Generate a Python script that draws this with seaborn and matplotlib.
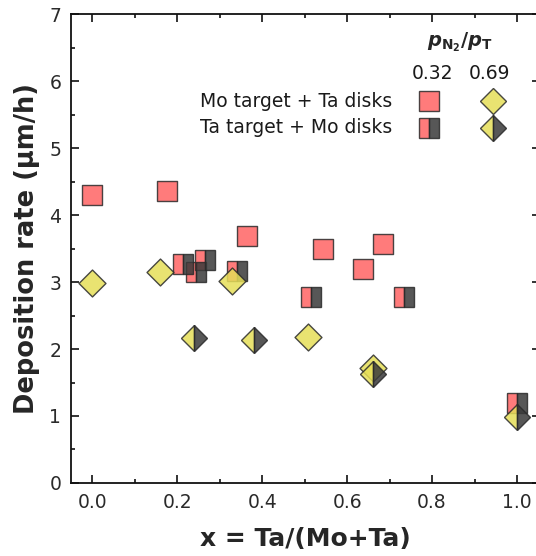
import matplotlib
matplotlib.use("Agg")
import matplotlib.pyplot as plt
from matplotlib.lines import Line2D
from matplotlib.ticker import MultipleLocator, FormatStrFormatter
import seaborn as sns
import pandas as pd

# Mo target + Ta disks, p_N2/p_T = 0.32 (squares)
mo_sq_x = [0.0, 0.176, 0.364, 0.543, 0.638, 0.684]
mo_sq_y = [4.30, 4.36, 3.69, 3.50, 3.19, 3.56]
# Ta target + Mo disks, p_N2/p_T = 0.32 (half squares)
ta_sq_x = [0.213, 0.245, 0.265, 0.340, 0.515, 0.733, 1.0]
ta_sq_y = [3.27, 3.15, 3.33, 3.17, 2.77, 2.77, 1.20]
# Mo target + Ta disks, p_N2/p_T = 0.69 (diamonds)
mo_d_x = [0.0, 0.160, 0.329, 0.509, 0.660]
mo_d_y = [2.98, 3.15, 3.01, 2.18, 1.72]
# Ta target + Mo disks, p_N2/p_T = 0.69 (half diamonds)
ta_d_x = [0.240, 0.380, 0.660, 1.0]
ta_d_y = [2.16, 2.13, 1.63, 0.985]

row_labels = ["Mo target + Ta disks", "Ta target + Mo disks"]
col_labels = ["0.32", "0.69"]
legend_title = r"$p_{\mathrm{N_2}}/p_{\mathrm{T}}$"

RED = "#FF6464"
YEL = "#E6DE58"
DARK = "#3A3A3A"
EDGE = "#2A2A2A"
MS = 13.7
ALPHA = 0.85

sns.set_theme(style="ticks")
plt.rcParams["font.family"] = ["DejaVu Sans"]
plt.rcParams["mathtext.fontset"] = "custom"
plt.rcParams["mathtext.it"] = "DejaVu Sans:bold:italic"
plt.rcParams["mathtext.rm"] = "DejaVu Sans:bold"
plt.rcParams["mathtext.bf"] = "DejaVu Sans:bold"

fig = plt.figure(figsize=(5.36, 5.56), dpi=100)
ax = fig.add_axes([0.1325, 0.1313, 0.8750, 0.8435])

df_mo_sq = pd.DataFrame({"x": mo_sq_x, "y": mo_sq_y})
df_ta_sq = pd.DataFrame({"x": ta_sq_x, "y": ta_sq_y})
df_mo_d = pd.DataFrame({"x": mo_d_x, "y": mo_d_y})
df_ta_d = pd.DataFrame({"x": ta_d_x, "y": ta_d_y})

sns.scatterplot(data=df_mo_sq, x="x", y="y", marker="s", s=MS ** 2,
                color=RED, edgecolor=EDGE, linewidth=1.0, alpha=ALPHA,
                ax=ax, legend=False, zorder=2)
sns.lineplot(data=df_ta_sq, x="x", y="y", estimator=None, sort=False,
             errorbar=None, linestyle="none", marker="s", markersize=MS,
             fillstyle="left", markerfacecolor=RED,
             markerfacecoloralt=DARK, markeredgecolor=EDGE,
             markeredgewidth=1.0, alpha=ALPHA, ax=ax, legend=False,
             zorder=3)
sns.scatterplot(data=df_mo_d, x="x", y="y", marker="D", s=MS ** 2,
                color=YEL, edgecolor=EDGE, linewidth=1.0, alpha=ALPHA,
                ax=ax, legend=False, zorder=4)
sns.lineplot(data=df_ta_d, x="x", y="y", estimator=None, sort=False,
             errorbar=None, linestyle="none", marker="D", markersize=MS,
             fillstyle="left", markerfacecolor=YEL,
             markerfacecoloralt=DARK, markeredgecolor=EDGE,
             markeredgewidth=1.0, alpha=ALPHA, ax=ax, legend=False,
             zorder=5)

ax.set_xlim(-0.05, 1.0542)
ax.set_ylim(0, 7)
ax.xaxis.set_major_locator(MultipleLocator(0.2))
ax.xaxis.set_minor_locator(MultipleLocator(0.1))
ax.yaxis.set_major_locator(MultipleLocator(1))
ax.yaxis.set_minor_locator(MultipleLocator(0.5))
ax.xaxis.set_major_formatter(FormatStrFormatter("%.1f"))
ax.tick_params(which="both", direction="in", top=True, right=True,
               width=1.2, color="#111111", labelsize=13.5,
               labelcolor="#2a2a2a")
ax.tick_params(which="major", length=6, pad=7)
ax.tick_params(which="minor", length=3)
for sp in ax.spines.values():
    sp.set_visible(True)
    sp.set_linewidth(1.3)
    sp.set_color("#111111")

ax.set_xlabel("x = Ta/(Mo+Ta)", fontsize=18, fontweight="bold", labelpad=11)
ax.set_ylabel("Deposition rate (μm/h)", fontsize=18.5, fontweight="bold",
              labelpad=7)

# Legend table: header, column values, row labels and marker glyphs
tr = ax.transAxes
ax.text(0.830, 0.940, legend_title, transform=tr, ha="center",
        va="center", fontsize=14)
col_x = [0.763, 0.900]
txt_x = [0.770, 0.892]
row_y = [0.8145, 0.757]
for cx, lab in zip(txt_x, col_labels):
    ax.text(cx, 0.874, lab, transform=tr, ha="center", va="center",
            fontsize=13.5, color="#1a1a1a")
for ry, lab in zip(row_y, row_labels):
    ax.text(0.685, ry, lab, transform=tr, ha="right", va="center",
            fontsize=13.5, color="#1a1a1a")
glyphs = [
    (col_x[0], row_y[0], "s", "full", RED),
    (col_x[1], row_y[0], "D", "full", YEL),
    (col_x[0], row_y[1], "s", "left", RED),
    (col_x[1], row_y[1], "D", "left", YEL),
]
for gx, gy, mk, fs, fc in glyphs:
    ax.add_artist(Line2D([gx], [gy], transform=tr, marker=mk,
                         markersize=MS, fillstyle=fs, markerfacecolor=fc,
                         markerfacecoloralt=DARK, markeredgecolor=EDGE,
                         markeredgewidth=1.0, alpha=ALPHA, linestyle="none",
                         clip_on=False))

fig.savefig("out.png", dpi=100)
